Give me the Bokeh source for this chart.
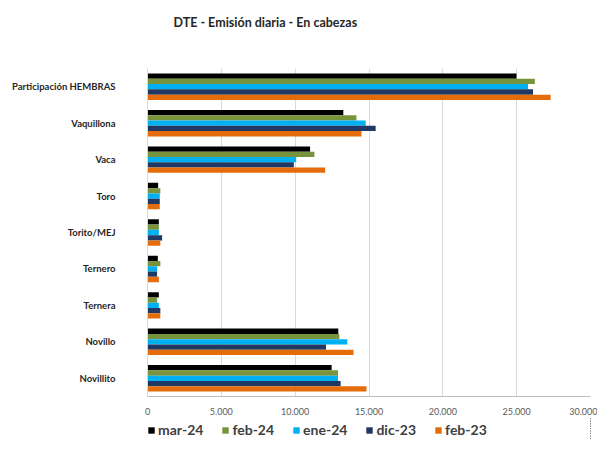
from bokeh.plotting import figure
from bokeh.layouts import column
from bokeh.models import FactorRange, Legend, LegendItem, FixedTicker, Range1d, Title
from bokeh.transform import dodge
from bokeh.embed import file_html
from bokeh.resources import INLINE

categories = ["Participación HEMBRAS", "Vaquillona", "Vaca", "Toro", "Torito/MEJ",
              "Ternero", "Ternera", "Novillo", "Novillito"]
series_names = ["mar-24", "feb-24", "ene-24", "dic-23", "feb-23"]
series_colors = ["#000000", "#77933C", "#00B0F0", "#1F3864", "#E46C0A"]

mar_24 = [24990, 13260, 11010, 720, 770, 700, 770, 12920, 12470]
feb_24 = [26230, 14150, 11300, 870, 770, 870, 650, 12990, 12900]
ene_24 = [25770, 14780, 10070, 830, 770, 650, 770, 13530, 12900]
dic_23 = [26110, 15450, 9910, 830, 990, 650, 870, 12090, 13080]
feb_23 = [27300, 14490, 12030, 830, 870, 770, 870, 13950, 14830]
series_values = [mar_24, feb_24, ene_24, dic_23, feb_23]

x_ticks = [0, 5000, 10000, 15000, 20000, 25000, 30000]
x_tick_labels = ["0", "5.000", "10.000", "15.000", "20.000", "25.000", "30.000"]

data = {"cat": categories}
for name, vals in zip(series_names, series_values):
    data[name] = vals

FONT = "Lato"

# title strip
tp = figure(width=597, height=40, output_backend="svg", toolbar_location=None,
            x_axis_type=None, y_axis_type=None,
            min_border=0, min_border_left=0, min_border_right=0, min_border_top=34,
            min_border_bottom=0)
tp.title = Title(text="DTE - Emisión diaria - En cabezas", align="left", offset=26,
                 text_font=FONT, text_font_size="12.5px", text_font_style="bold",
                 text_color="#262626")
tp.outline_line_color = None

p = figure(frame_width=443, frame_height=328, output_backend="svg", toolbar_location=None,
           y_range=FactorRange(factors=list(reversed(categories)), range_padding=0),
           x_range=Range1d(0, 30000),
           min_border_left=147, min_border_right=7, min_border_top=28, min_border_bottom=17)

bar_h = 0.145
offsets = [0.29, 0.145, 0.0, -0.145, -0.29]
for name, color, off in zip(series_names, series_colors, offsets):
    p.hbar(y=dodge("cat", off, range=p.y_range), right=name, left=0, height=bar_h,
           source=data, fill_color=color, line_color=None)

p.xaxis.ticker = FixedTicker(ticks=x_ticks)
p.xaxis.major_label_overrides = {t: l for t, l in zip(x_ticks, x_tick_labels)}
p.xaxis.major_label_text_font = FONT
p.xaxis.major_label_text_font_size = "9px"
p.xaxis.major_label_text_color = "#595959"
p.xaxis.major_tick_line_color = None
p.xaxis.minor_tick_line_color = None
p.xaxis.axis_line_color = "#BFBFBF"
p.xaxis.major_label_standoff = 5

p.yaxis.major_label_text_font = FONT
p.yaxis.major_label_text_font_size = "9.5px"
p.yaxis.major_label_text_font_style = "bold"
p.yaxis.major_label_text_color = "#262626"
p.yaxis.major_tick_line_color = None
p.yaxis.axis_line_color = "#D9D9D9"
p.yaxis.major_label_standoff = 26

p.ygrid.grid_line_color = None
p.xgrid.grid_line_color = "#D9D9D9"
p.outline_line_color = None

# legend strip below the chart (its bars use the same data but lie outside its view)
lp = figure(width=597, height=22, output_backend="svg", toolbar_location=None,
            x_range=Range1d(-2, -1), y_range=FactorRange(factors=categories),
            x_axis_type=None, y_axis_type=None,
            min_border=0, min_border_left=0, min_border_right=0, min_border_top=0,
            min_border_bottom=0)
lp.grid.visible = False
lp.outline_line_color = None
items = []
for name, color in zip(series_names, series_colors):
    r = lp.hbar(y="cat", right=name, left=0, height=0.5, source=data,
                fill_color=color, line_color=None)
    items.append(LegendItem(label=name, renderers=[r]))
legend = Legend(items=items, orientation="horizontal", location=(0, 1),
                label_text_font=FONT, label_text_font_size="14px", label_text_font_style="bold",
                label_text_color="#404040", glyph_width=8, glyph_height=8,
                label_standoff=3, spacing=18, padding=1, margin=0,
                background_fill_alpha=0, border_line_color=None, label_height=12)
lp.add_layout(legend, "center")

layout = column(tp, p, lp, spacing=0)
open("out.html", "w").write(file_html(layout, INLINE))
